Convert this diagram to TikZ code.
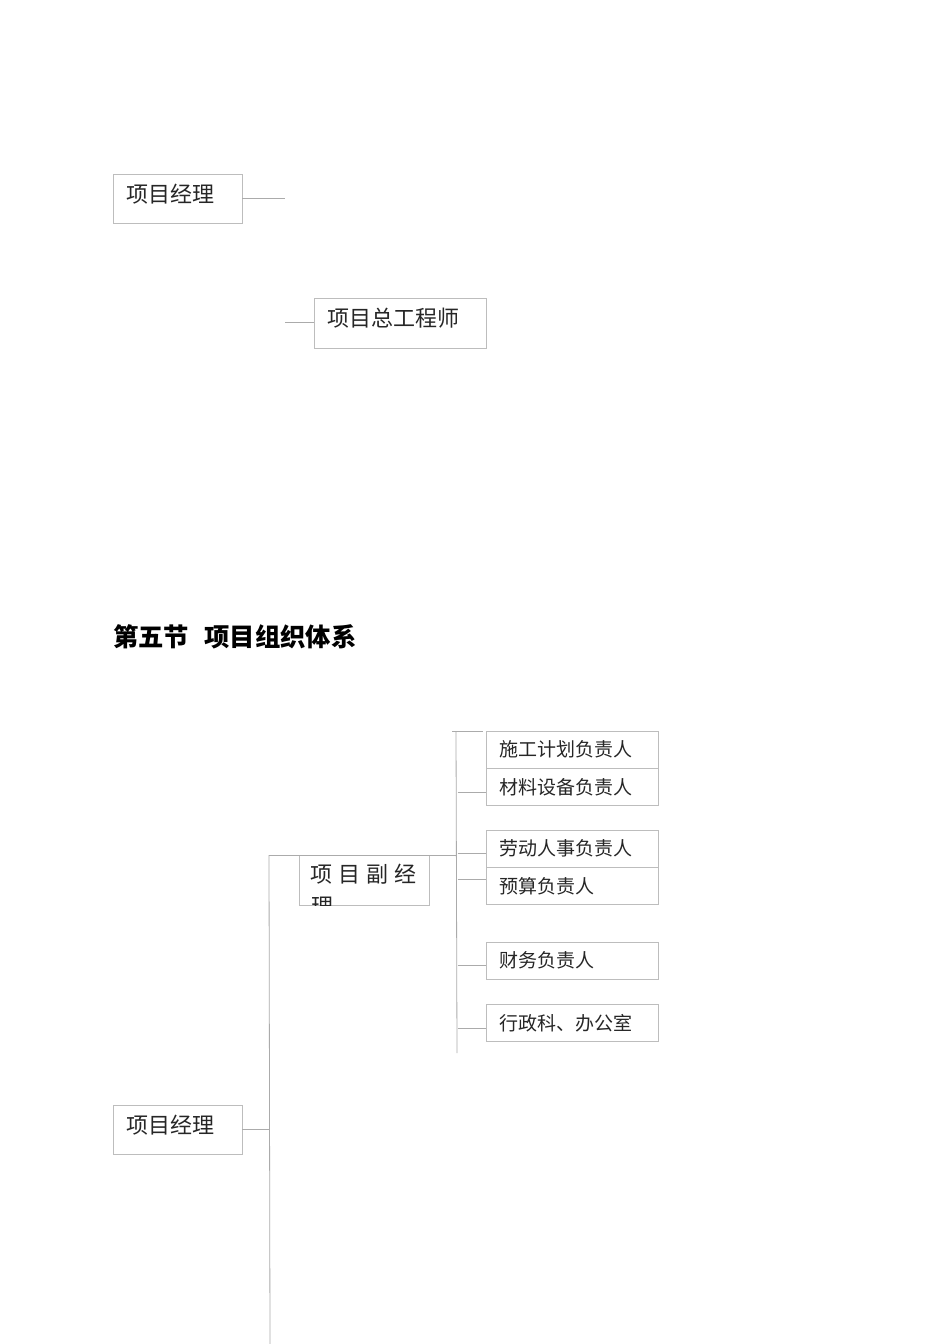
\documentclass[tikz,border=0pt]{standalone}
\usepackage{fontspec}
\newfontfamily\cjk{Noto Sans CJK SC}
\usetikzlibrary{positioning}

\definecolor{boxgray}{HTML}{BDBDBD}
\definecolor{linegray}{HTML}{ABABAB}

\tikzset{
    orgbox/.style={draw=boxgray, line width=0.7pt, rectangle, inner xsep=9.75pt, inner ysep=0pt,
        align=left, text=black!85, font=\cjk\fontsize{16.5}{20}\selectfont},
    headbox/.style={orgbox, minimum width=96.75pt, minimum height=36.75pt, text width=77.25pt,
        text depth=8pt},
    chiefbox/.style={orgbox, minimum width=129pt, minimum height=37.5pt, text width=109.5pt,
        text depth=8pt},
    deputybox/.style={orgbox, minimum width=97.5pt, minimum height=37.5pt, inner xsep=8.5pt,
        text width=80.5pt, text depth=10pt},
    dutybox/.style={orgbox, minimum width=129pt, minimum height=27.75pt, text width=109.5pt,
        font=\cjk\fontsize{14.25}{17}\selectfont},
    link/.style={draw=linegray, line width=0.6pt},
}

\begin{document}
\begin{tikzpicture}[x=0.75pt, y=-0.75pt]
    \useasboundingbox (0,0) rectangle (950,1344);

    \node[headbox] (pm) at (177.5,198.5) {项目经理};
    \node[chiefbox] (chief) at (400,323) {项目总工程师};
    \coordinate (pmend) at (285,198);
    \coordinate (chiefstart) at (285,322);
    \draw[link] (pm.east |- pmend) -- (pmend);
    \draw[link] (chiefstart) -- (chief.west |- chiefstart);

    \node[anchor=west, inner sep=0pt, font=\cjk\bfseries\fontsize{19}{22}\selectfont] (title) at (113,637)
        {第五节\hspace{0.6em}项目组织体系};

    \node[dutybox] (plan) at (572,749.5) {施工计划负责人};
    \node[dutybox, below=0pt of plan] (material) {材料设备负责人};
    \node[dutybox] (labour) at (572,848.5) {劳动人事负责人};
    \node[dutybox, below=0pt of labour] (budget) {预算负责人};
    \node[dutybox] (finance) at (572,960.5) {财务负责人};
    \node[dutybox] (office) at (572,1023) {行政科、办公室};

    \node[deputybox] (deputy) at (364,880)
        {项\hspace{4.5pt}目\hspace{4.5pt}副\hspace{4.5pt}经};
    \begin{scope}
        \clip (deputy.north west) rectangle (deputy.south east);
        \node[anchor=north west, inner sep=0pt, text=black!85, font=\cjk\fontsize{16.5}{20}\selectfont]
            (deputytail) at (311,897) {理};
    \end{scope}

    \node[headbox] (manager) at (177.5,1129.5) {项目经理};

    \coordinate (trunktop) at (269,855);
    \coordinate (trunkbot) at (270,1344);
    \coordinate (branchtop) at (456,731);
    \coordinate (branchbot) at (457,1053);
    \coordinate (topstub) at (452,731);

    \draw[link] (trunktop) -- (trunkbot);
    \draw[link] (manager.east) -- (manager.east -| trunktop);
    \draw[link] (trunktop) -- (trunktop -| branchtop);
    \draw[link] (branchtop) -- (branchbot);
    \draw[link] (topstub) -- (483,731);
    \foreach \duty in {material, labour, finance, office}
        \draw[link] (\duty.west) ++(-28,5) -- ++(28,0);
    \draw[link] (budget.west) ++(-28,-7) -- ++(28,0);
\end{tikzpicture}
\end{document}
